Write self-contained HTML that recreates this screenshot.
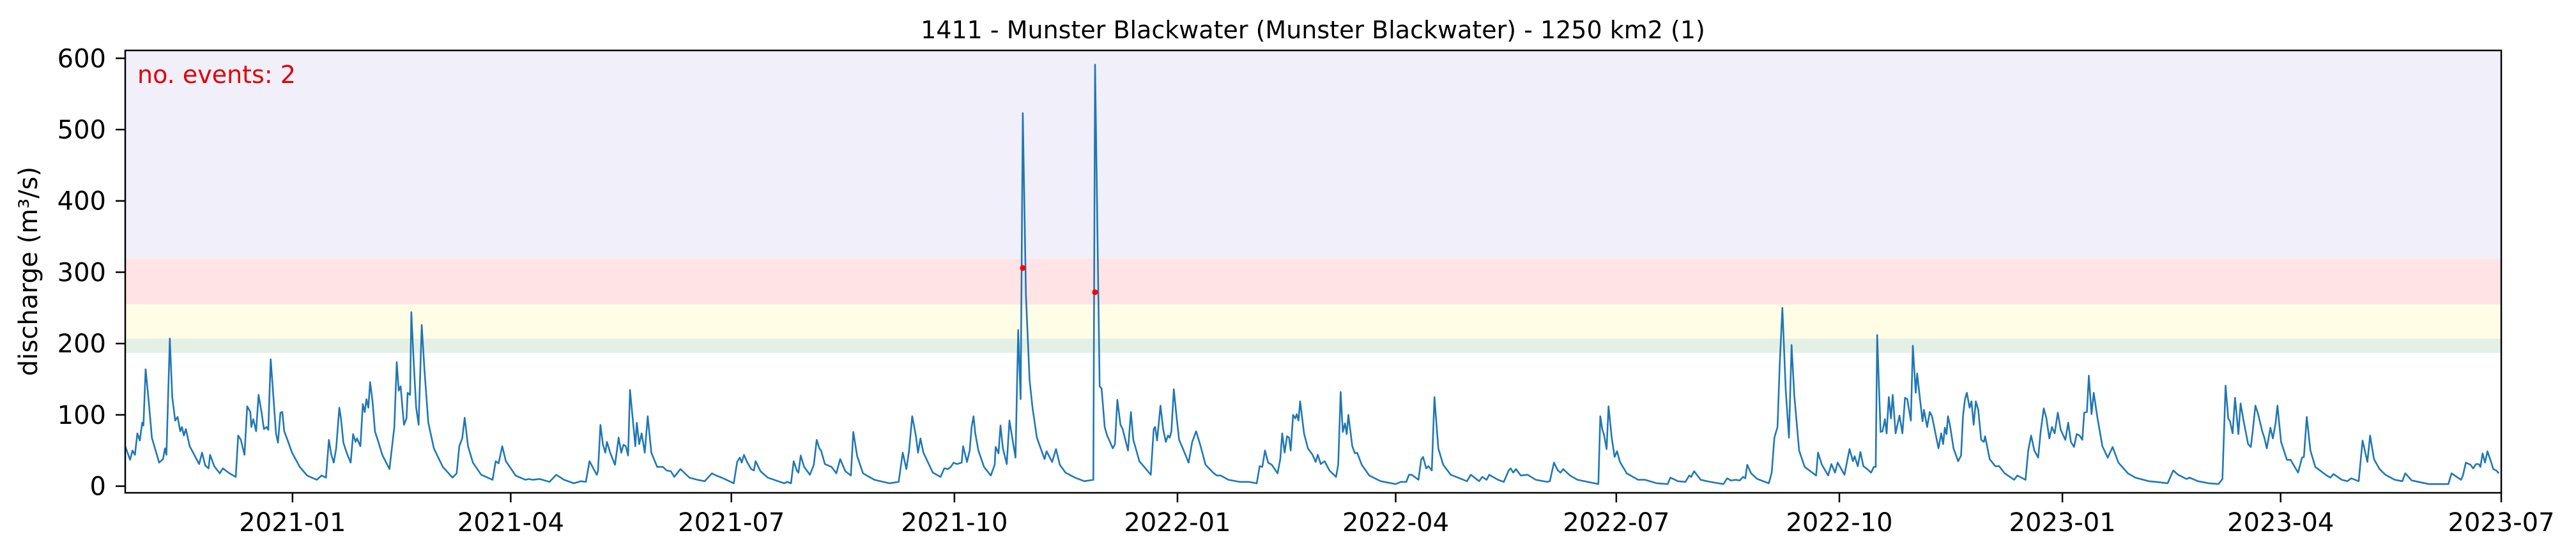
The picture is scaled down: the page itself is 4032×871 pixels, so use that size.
<!DOCTYPE html>
<html><head><meta charset="utf-8"><style>
html,body{margin:0;padding:0;background:#fff;}
svg{display:block;font-family:"DejaVu Sans","Liberation Sans",sans-serif;}
</style></head><body>
<svg id="chart" width="4032" height="871" viewBox="0 0 4032 871" xmlns="http://www.w3.org/2000/svg">
<g id="bands"></g>
<g id="series"></g>
<rect x="196" y="79" width="3719" height="693" fill="none" stroke="#000" stroke-width="2.5"/>
<g id="xaxis"></g>
<g id="yaxis"></g>
<text x="2055" y="60" font-size="38" text-anchor="middle">1411 - Munster Blackwater (Munster Blackwater) - 1250 km2 (1)</text>
<text transform="translate(58,425) rotate(-90)" font-size="40" text-anchor="middle">discharge (m³/s)</text>
<text x="215" y="130" font-size="38" fill="#e00000">no. events: 2</text>
</svg>
<script>
// days since 2020-10-24
const days=[0,2,3,4,5,6,7,7.5,8.4,9.7,11,14,15.6,16.4,17,18.4,19.4,20.6,21.6,22.7,23.4,24.2,25,26.6,28,30.5,31.7,33,34.4,35,36.7,39,40.3,41.4,43,45.6,46.6,47.7,49.2,50.3,51.6,52,52.8,54,55,56.2,57.2,58.3,59,60,61.2,62.2,63,64,64.8,65.6,66.9,68.8,72,75,79,81,82.8,84,85,86,87,88.3,89,90,91.4,93,94,95,95.6,97,98,98.8,99.5,100.3,101,102,103,104.4,106,109,111,112,112.8,113.6,114.5,115,116,116.5,117.5,118,119,120,121,122.3,123.4,125,127.3,131,135,136.7,137.8,139,140,141.4,143.4,146.8,151.5,152.8,154,155.5,157,161,165,166.4,168,171,175,177.8,181,185,188,190,191.5,194.5,195,196,197,198,198.7,200,202,203.5,204.6,205.5,206.5,207.4,208.2,210.4,211,212,213,214.3,215.5,217,219.4,221.8,223.3,225,226.5,229,232.7,236,239,242,243.7,
246,251,252.4,253.5,254.3,255.2,256.6,258.2,259.3,260,262,265,271.8,273,274.6,275.7,277,277.7,278.6,280,282.4,284,285.2,286.3,287,288.6,291.3,293.3,294.9,297,299.3,300.3,301.9,304.3,309,315.2,319,320.7,322.2,323.3,324.6,326.1,327,328,329.2,333.1,336.3,337.8,339.4,340.5,341.7,343,345,345.6,347.2,348.3,349.1,349.9,350.6,351.9,354.2,357,358.6,359,360.2,361,362,363.6,364.7,366,367.2,368.3,369.3,370.2,371.5,373,374.2,376,379.2,380,382.3,383.9,385.5,387.8,391.7,395.6,399.3,400,401.9,402.7,404,405,405.8,407.3,408.2,409.2,410.5,411.4,413.6,414.8,415.8,418.3,423,424.2,424.8,425.6,427,428.1,429.2,430.1,430.8,431.5,432.5,433.6,434.7,436.2,438.6,440.1,441.7,443.3,445.6,448.7,450.3,451.8,455,459.6,463.5,466.7,467.9,469,470.1,471.4,472.9,475.3,476.4,477.2,478.2,479.2,480,480.7,481.7,482.6,483.2,483.9,484.6,486.2,487.8,489.7,
491,491.9,493.1,494.7,496.7,499.4,500.3,501.3,502.2,503.1,503.8,504.5,506.1,507.2,508.1,510,513.1,517.8,524,526.1,528.4,529.5,530.6,533.4,534.5,535.3,536.6,537.5,538.9,540,541.6,543.6,546.7,553.4,555,558.4,559.7,561.5,562.6,566.2,568.6,570.6,571.4,572.5,573.6,575.6,578.4,581.8,586.5,587.6,589.3,590.9,592,593.1,595.9,599,607.6,608.4,609.2,610,611,611.8,613.1,614.3,615.3,616.5,619.3,624,626.8,631.8,636.2,637.3,640.4,643.5,645.1,645.9,647.1,649.8,653.7,659.2,660.7,662.3,664.3,665.9,667.3,668.2,669,670.6,673.2,677.9,679.1,680.2,681.5,682.4,683.5,684.9,686.2,687.3,688.4,690.4,692.7,697.4,698.2,699.8,702.4,703.7,705.2,706.3,709.1,711.2,712.6,713.3,714.6,715.7,716.9,718.5,720.1,721.2,722,722.6,724,724.8,725.8,726.5,727.4,728.3,729,730.2,731.8,733,734.1,
735,736.5,737.3,738.5,739.1,740.1,741.3,741.9,743.2,744.3,745.2,747.9,749,749.8,750.5,751.2,751.8,752.6,754.1,756,757.2,758,758.8,759.6,760.7,761.5,762.4,763.3,764.3,765.5,766.6,767.1,769,771.3,772.9,775.2,779.1,780.4,783.8,784.9,786.1,787.4,789,790,791.3,792.4,793.6,794.7,795.8,797.1,798.3,800.2,801.4,802.5,803.8,804.9,806.1,807.2,808,809.1,809.9,811,811.9,813.5,815.5,817.7,819.7,822.1,826,829.1,834.6,837.7,842.4,844.7,846.7,850.2,851.4,854.9,859.5,863.4,865,866.3,867.4,868.1,869.2,870.2,871.6,872.5,873.6,875.6,876.7,877.5,878.6,879.8,881.4,882.3,883.3,884.8,885.8,886.9,887.7,889.2,891.6,893.1,896.2,897.8,898.6,899.8,901.3,903.3,908,909.5,910.8,914.2,916.5,918.1,921.2,922.8,924.8,925.9,927.5,929.8,932.2,936.1,939.2,940.4,943.1,950.1,958.2,959.5,963.4,964.2,965.4,967.3,968.4,969.6,970.7,971.4,972.3,973.3,974.3,975.9,976.7,977.9,979];
const flow=[56,37,50,44,74,64,89,85,164,119,68,33,38,53,44,207,125,92,97,77,83,71,80,56,47,31,47,29,25,44,28,18,25,22,18,13,71,65,44,112,104,83,94,77,128,104,80,83,79,178,122,74,61,103,104,77,65,47,27,15,9,15,12,65,44,33,53,110,95,61,46,33,73,62,67,56,115,104,122,110,146,119,77,62,44,24,83,174,134,140,104,86,95,131,128,244,173,110,86,226,164,89,53,27,12,18,56,67,96,56,33,16,9,35,32,56,35,15,9,10,9,10,6,16,9,4,7,6,35,16,21,86,59,47,62,47,30,68,47,58,56,43,135,56,89,59,74,47,98,47,27,27,22,21,13,24,12,9,7,18,15,
12,4,34,40,33,44,33,24,22,35,21,12,4,6,4,35,22,19,43,27,16,30,65,53,50,31,27,18,38,21,15,76,42,18,9,4,6,47,24,50,98,71,47,67,47,19,13,25,24,27,33,31,33,56,34,50,83,98,74,50,27,15,30,55,46,85,53,31,92,65,40,219,122,523,268,149,110,68,38,49,34,52,30,19,12,7,9,591,140,137,83,71,65,53,59,121,86,80,50,104,65,35,16,80,83,64,113,80,62,71,68,77,136,98,65,53,33,62,77,59,30,19,15,15,9,6,6,4,28,27,50,33,30,18,38,74,47,70,68,50,100,95,101,92,119,74,53,44,
34,44,31,35,22,13,30,132,76,88,73,100,56,46,47,30,15,7,3,6,6,16,16,9,37,41,25,28,22,125,53,30,16,7,16,7,13,9,16,9,6,22,25,19,24,15,16,9,6,7,33,22,19,24,15,9,3,98,80,71,52,112,68,41,49,34,18,9,9,4,3,12,7,6,15,13,21,9,6,3,11,8,9,8,13,11,30,18,10,4,19,68,83,170,250,134,68,198,128,50,27,15,47,30,15,31,19,33,16,52,35,42,28,48,28,24,19,27,27,212,76,77,94,74,125,95,128,74,99,74,124,
122,92,197,131,158,127,91,107,83,104,98,53,74,59,82,73,98,86,53,35,43,98,122,131,110,119,86,119,107,65,62,70,38,28,28,18,9,15,9,50,71,50,40,76,109,95,67,83,74,103,79,65,89,62,55,73,71,65,103,104,155,101,131,95,56,40,55,33,18,12,7,6,4,22,16,10,12,7,4,3,10,141,95,91,74,124,73,116,94,59,55,77,113,100,77,68,53,82,67,88,113,62,37,37,19,40,41,97,50,27,15,12,17,9,7,11,7,64,34,71,38,24,16,9,7,18,8,3,3,18,9,15,33,30,25,31,31,27,46,33,49,33,24,22,18];
const eventDays=[370.2,400];
const eventValues=[306,272];
const bandLows=[187,207,255,319];
const bandHighs=[207,255,319,611];
const bandColors=["#e4f0e4","#fffde6","#ffe3e5","#f1eff9"];
const yTicks=[0,100,200,300,400,500,600];
const xTickLabels=["2021-01","2021-04","2021-07","2021-10","2022-01","2022-04","2022-07","2022-10","2023-01","2023-04","2023-07"];

const NS="http://www.w3.org/2000/svg";
const L=196,R=3915,T=79,B=772;
const startMs=Date.UTC(2020,9,24), endMs=Date.UTC(2023,6,1);
const totalDays=(endMs-startMs)/86400000;
const yMin=-9.3,yMax=611;
function X(d){return L+(R-L)*d/totalDays;}
function Y(v){return B-(B-T)*(v-yMin)/(yMax-yMin);}
function mk(tag,attrs,parent){const e=document.createElementNS(NS,tag);for(const k in attrs)e.setAttribute(k,attrs[k]);parent.appendChild(e);return e;}

const bands=document.getElementById('bands');
for(let i=0;i<bandLows.length;i++){
  const r=mk('rect',{x:L,y:Y(Math.min(bandHighs[i],yMax)),width:R-L,height:Y(bandLows[i])-Y(Math.min(bandHighs[i],yMax)),fill:bandColors[i]},bands);
  
  
}
const series=document.getElementById('series');
let d='';
for(let i=0;i<days.length;i++){d+=(i?'L':'M')+X(days[i]).toFixed(1)+' '+Y(flow[i]).toFixed(1);}
const line=mk('path',{d:d,fill:'none',stroke:'#1f77b4','stroke-width':2.6,'stroke-linejoin':'round'},series);


for(let i=0;i<eventDays.length;i++){
  const c=mk('circle',{cx:X(eventDays[i]),cy:Y(eventValues[i]),r:4.5,fill:'#ff0000'},series);
  
  
}
const ya=document.getElementById('yaxis');
yTicks.forEach(v=>{
  const t=mk('line',{x1:L-15,x2:L,y1:Y(v),y2:Y(v),stroke:'#000','stroke-width':2.5},ya);
  
  
  const s=mk('text',{x:L-30,y:Y(v)+14,'font-size':40,'text-anchor':'end'},ya);
  s.textContent=String(v);
  
  
});
const xa=document.getElementById('xaxis');
xTickLabels.forEach(lbl=>{
  const p=lbl.split('-');
  const dd=(Date.UTC(+p[0],+p[1]-1,1)-startMs)/86400000;
  const x=X(dd);
  const t=mk('line',{x1:x,x2:x,y1:B,y2:B+15,stroke:'#000','stroke-width':2.5},xa);
  
  
  const s=mk('text',{x:x,y:832,'font-size':40,'text-anchor':'middle'},xa);
  s.textContent=lbl;
  
  
});
</script>
</body></html>
